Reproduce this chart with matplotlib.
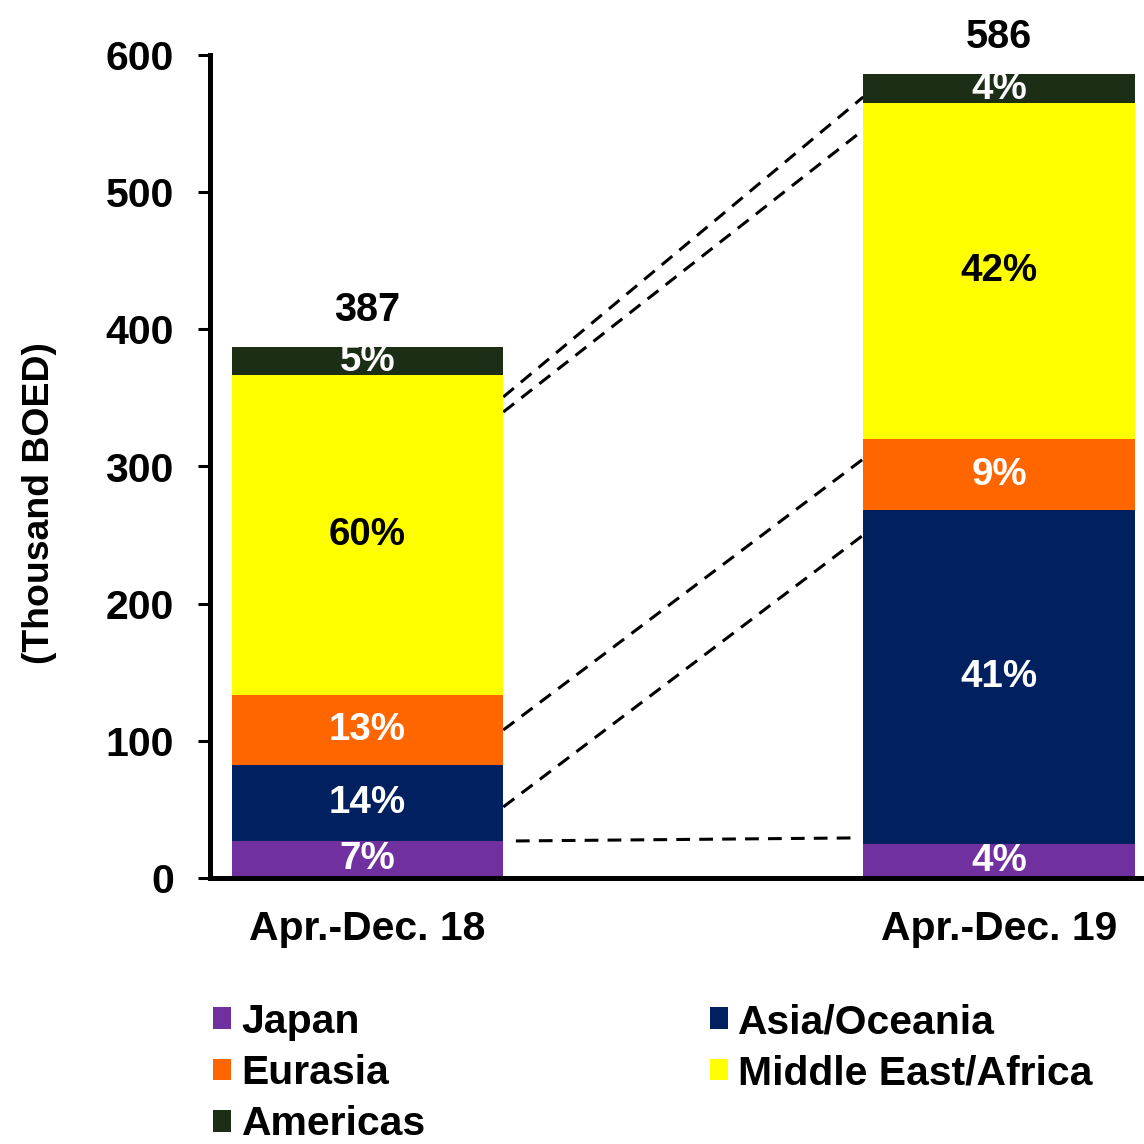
import matplotlib
matplotlib.use('Agg')
import matplotlib.pyplot as plt
from matplotlib import font_manager as fm
from matplotlib.patches import Patch
import numpy as np

# ---------------- data ----------------
categories = ['Apr.-Dec. 18', 'Apr.-Dec. 19']
regions = ['Japan', 'Asia/Oceania', 'Eurasia', 'Middle East/Africa', 'Americas']
japan = [27, 25]
asia_oceania = [55.5, 243]
eurasia = [51, 52]
middle_east_africa = [233, 245]
americas = [20.5, 21]
pct_labels_18 = ['7%', '14%', '13%', '60%', '5%']
pct_labels_19 = ['4%', '41%', '9%', '42%', '4%']
totals = [387, 586]
connector_18 = [350.7, 339.7, 107.9, 51.8, 27.0]
connector_19 = [569.4, 545.3, 305.5, 250.0, 29.2]
yticks = [0, 100, 200, 300, 400, 500, 600]

colors = ['#7030A0', '#002060', '#FF6600', '#FFFF00', '#1C2E15']
label_colors = ['white', 'white', 'white', 'black', 'white']

# ---------------- fonts ----------------
names = {f.name for f in fm.fontManager.ttflist}
if 'Liberation Sans Narrow' in names:
    narrow, k = 'Liberation Sans Narrow', 1.0
else:
    narrow, k = 'Liberation Sans', 0.84
plain = 'Liberation Sans'

fig = plt.figure(figsize=(11.44, 11.44), dpi=100)
ax = fig.add_axes([210 / 1144, 1 - 878 / 1144, 934 / 1144, 823 / 1144])

series = [japan, asia_oceania, eurasia, middle_east_africa, americas]
x = np.arange(len(categories))
width = 0.43
bottom = np.zeros(len(categories))
bars = []
for vals, col in zip(series, colors):
    b = ax.bar(x, vals, width, bottom=bottom, color=col, edgecolor='none', zorder=2)
    bars.append(b)
    bottom = bottom + np.array(vals)

# percentage labels
pct = [pct_labels_18, pct_labels_19]
for si, b in enumerate(bars):
    for ci, rect in enumerate(b):
        ax.text(rect.get_x() + rect.get_width() / 2, rect.get_y() + rect.get_height() / 2,
                pct[ci][si], ha='center', va='center', color=label_colors[si],
                fontsize=33 * k, fontweight='bold', family=narrow, zorder=3)

# totals
for xi, t in zip(x, totals):
    ax.annotate(str(t), (xi, t), xytext=(0, 27), textcoords='offset points',
                ha='center', va='center', fontsize=34 * k, fontweight='bold',
                family=narrow, annotation_clip=False)

# dashed connector lines
x0 = x[0] + width / 2
x1 = x[1] - width / 2
for i, (a, b) in enumerate(zip(connector_18, connector_19)):
    inset = 0.02 if i == len(connector_18) - 1 else 0.0
    ax.plot([x0 + inset, x1 - inset], [a, b], color='black', lw=2.2,
            linestyle=(0, (4.5, 3)), zorder=1, clip_on=False)

ax.set_xlim(-0.2494, 1.2296)
ax.set_ylim(0, 600)
ax.set_yticks(yticks)
ax.set_yticklabels([str(v) for v in yticks], fontsize=29.5, fontweight='bold', family=plain)
ax.set_xticks(x)
ax.set_xticklabels(categories, fontsize=35 * k, fontweight='bold', family=narrow)
ax.tick_params(axis='x', length=0, pad=23)
ax.tick_params(axis='y', direction='out', length=8.6, width=2.2, pad=17.5)
for s in ['top', 'right']:
    ax.spines[s].set_visible(False)
for s in ['left', 'bottom']:
    ax.spines[s].set_linewidth(3.6)
ax.spines['bottom'].set_zorder(4)

ax.set_ylabel('(Thousand BOED)', fontsize=32 * k, fontweight='bold', family=narrow,
              va='center', ha='center')
ax.yaxis.set_label_coords(-0.183, 0.456)

# legend (row-major order in 2 columns)
handles = {r: Patch(facecolor=c, edgecolor='none') for r, c in zip(regions, colors)}
order = ['Japan', 'Eurasia', 'Americas', 'Asia/Oceania', 'Middle East/Africa']
leg = fig.legend([handles[r] for r in order], order, ncol=2, loc='upper left',
                 bbox_to_anchor=(213 / 1144, 1 - 1003 / 1144), bbox_transform=fig.transFigure,
                 frameon=False, borderpad=0, borderaxespad=0,
                 handlelength=0.45, handleheight=0.45, handletextpad=0.25,
                 labelspacing=0.32, columnspacing=6.95,
                 prop=fm.FontProperties(family=narrow, weight='bold', size=35 * k))

fig.savefig('out.png', dpi=100)
